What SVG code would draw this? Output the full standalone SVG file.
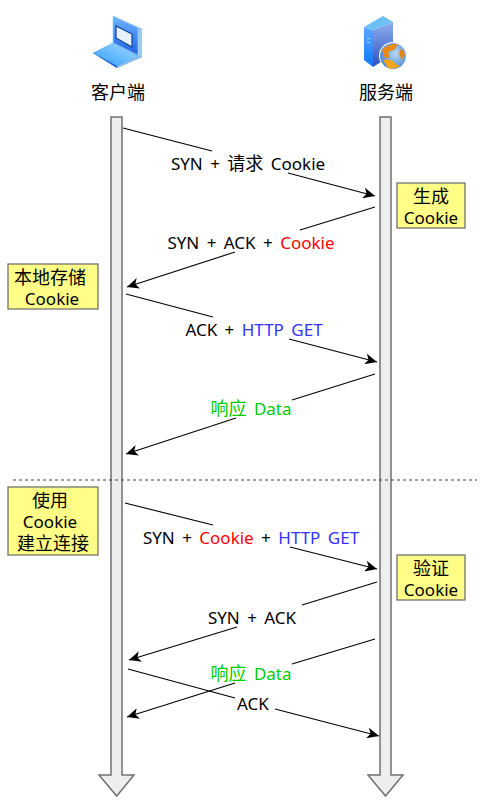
<svg xmlns="http://www.w3.org/2000/svg" width="500" height="801" viewBox="0 0 500 801">
<style>
text{font-family:"Noto Sans","Noto Sans CJK SC",sans-serif;font-size:17px;word-spacing:3px;text-anchor:middle;fill:#000}
.cjk{font-size:18px;word-spacing:0}
.life{fill:#eeeeee;stroke:#707070;stroke-width:1.5}
.note{fill:#ffff88;stroke:#666;stroke-width:1.2}
.c{fill:none;stroke:#000;stroke-width:1.1}
.a{marker-end:url(#head)}
.red{fill:#ff0000}.blue{fill:#3333ff}.green{fill:#00cc00}
</style>
<defs>
<marker id="head" markerUnits="userSpaceOnUse" viewBox="0 0 14 12" refX="13" refY="6" markerWidth="13" markerHeight="11" orient="auto"><path d="M0 0L13 6L0 12L3.5 6Z" fill="#000"/></marker>
<linearGradient id="lapBase" x1="0" y1="1" x2="1" y2="0"><stop offset="0" stop-color="#2f9bff"/><stop offset="1" stop-color="#a6dcff"/></linearGradient>
<linearGradient id="lapScreen" x1="0" y1="0" x2="0" y2="1"><stop offset="0" stop-color="#6fb4ff"/><stop offset="1" stop-color="#1e63e0"/></linearGradient>
<linearGradient id="srvFront" x1="0" y1="0" x2="0" y2="1"><stop offset="0" stop-color="#8fb0ee"/><stop offset="1" stop-color="#2a50c0"/></linearGradient>
<linearGradient id="srvSide" x1="0" y1="0" x2="0" y2="1"><stop offset="0" stop-color="#5aa6ff"/><stop offset="1" stop-color="#0f78ff"/></linearGradient>
<radialGradient id="globe" cx="0.6" cy="0.4" r="0.7"><stop offset="0" stop-color="#b7d8f5"/><stop offset="1" stop-color="#3f7fd0"/></radialGradient>
</defs>

<g id="client">
<path d="M113 16L142 29V57L117 68L93 53L113 43Z" fill="#2f7fe8"/>
<path d="M113 16L138 28V55L113 43Z" fill="url(#lapScreen)" stroke="#9fd0ff" stroke-width="0.8"/>
<path d="M138 28L142 29V57L138 59Z" fill="#9cc8f5"/>
<path d="M116 26L132 34V47L116 38Z" fill="#e8f2ff" stroke="#123f9a" stroke-width="1.2"/>
<path d="M93 53L113 43L138 56L117 66Z" fill="url(#lapBase)"/>
<path d="M93 53L117 66V68Z" fill="#1f5fd0"/>
<path d="M117 66L138 56L142 57L117 68Z" fill="#8fc0f0"/>
<text class="cjk" x="118" y="99">客户端</text>
</g>
<g id="server">
<path d="M373 30L393 22V43L385 50L381 62L373 67Z" fill="url(#srvFront)"/>
<path d="M364 27L373 30V67L364 60Z" fill="url(#srvSide)"/>
<path d="M364 27L383 16L393 22L373 30Z" fill="#6cc0f5"/>
<path d="M367 38l3 1M367 42l3 1" stroke="#cfe3ff" stroke-width="0.8"/>
<circle cx="393" cy="56" r="14" fill="#fff"/>
<circle cx="393" cy="56" r="13" fill="url(#globe)"/>
<path d="M382 50Q388 43 398 44L394 50L388 52L390 57L385 58Z" fill="#e88a10"/>
<path d="M383 60Q392 58 396 64L400 66Q394 70 388 68Z" fill="#f5a51a"/>
<path d="M401 48L405 54L402 60L399 54Z" fill="#e8870f"/>
<text class="cjk" x="386" y="99">服务端</text>
</g>

<g id="client-lifeline"><path class="life" d="M111 117H122V775H134L116.7 796L99 775H111Z"/></g>
<g id="server-lifeline"><path class="life" d="M380 117H391V775H403L385.5 796L368 775H380Z"/></g>

<g id="connectors">
<path class="c" d="M123 128L212 151"/><path class="c a" d="M288 173L375 196"/>
<path class="c" d="M375 207L300 230"/><path class="c a" d="M235 252L127 287"/>
<path class="c" d="M126 294L213 317"/><path class="c a" d="M289 339L377 362"/>
<path class="c" d="M375 374L292 400"/><path class="c a" d="M236 418L126 454"/>
<path d="M13 480H477" fill="none" stroke="#444" stroke-width="1.1" stroke-dasharray="3 3"/>
<path class="c" d="M125 503L213 525"/><path class="c a" d="M290 547L377 569"/>
<path class="c" d="M377 582L302 605"/><path class="c a" d="M237 627L129 660"/>
<path class="c" d="M375 639L292 664"/><path class="c a" d="M235 683L127 717"/>
<path class="c" d="M128 669L235 698"/><path class="c a" d="M275 709L379 736"/>
</g>

<g id="labels">
<text x="248" y="170">SYN + <tspan class="cjk">请求</tspan> Cookie</text>
<text x="251" y="249">SYN + ACK + <tspan class="red">Cookie</tspan></text>
<text x="254" y="336">ACK + <tspan class="blue">HTTP GET</tspan></text>
<text x="251" y="415" class="green"><tspan class="cjk">响应</tspan> Data</text>
<text x="251" y="544">SYN + <tspan class="red">Cookie</tspan> + <tspan class="blue">HTTP GET</tspan></text>
<text x="252" y="624">SYN + ACK</text>
<text x="251" y="680" class="green"><tspan class="cjk">响应</tspan> Data</text>
<text x="253" y="710">ACK</text>
</g>

<g id="note-generate"><rect class="note" x="397" y="183" width="68" height="45"/><text class="cjk" x="431" y="203">生成</text><text x="431" y="224">Cookie</text></g>
<g id="note-store"><rect class="note" x="8" y="264" width="90" height="45"/><text class="cjk" x="50" y="284">本地存储</text><text x="52" y="305">Cookie</text></g>
<g id="note-use"><rect class="note" x="8" y="487" width="90" height="68"/><text class="cjk" x="50" y="507">使用</text><text x="50" y="528">Cookie</text><text class="cjk" x="53" y="550">建立连接</text></g>
<g id="note-verify"><rect class="note" x="397" y="555" width="68" height="45"/><text class="cjk" x="431" y="575">验证</text><text x="431" y="596">Cookie</text></g>
</svg>
